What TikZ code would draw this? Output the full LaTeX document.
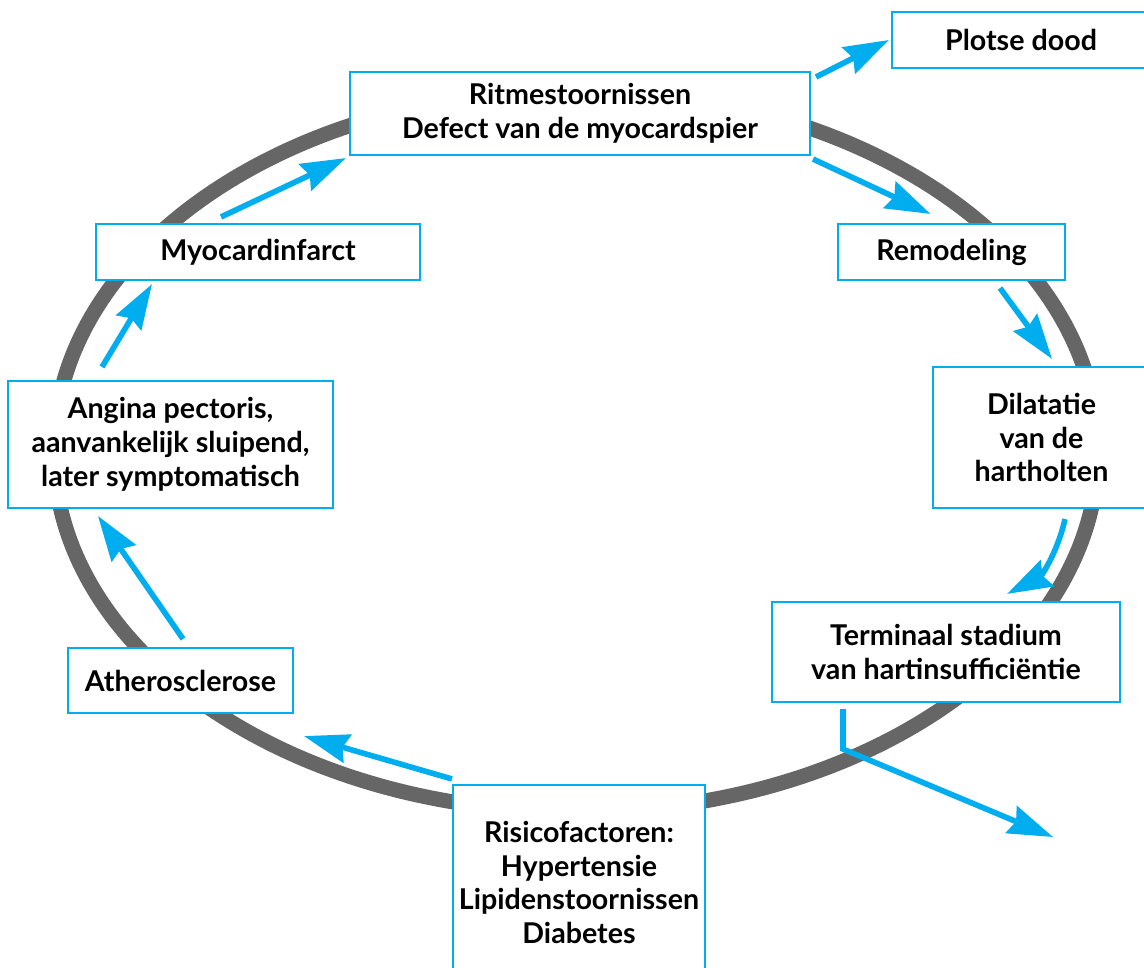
\documentclass[tikz,border=0pt]{standalone}
\usepackage{fontspec}
\setmainfont{Lato}
\usetikzlibrary{arrows.meta,positioning}
\definecolor{cycleblue}{HTML}{00AEEF}
\definecolor{ringgray}{HTML}{666666}
\tikzset{
    stage/.style={
        draw=cycleblue,
        line width=1.2pt,
        fill=white,
        align=center,
        inner sep=0pt,
        font=\bfseries\fontsize{16.3}{19.3}\selectfont
    },
    flow/.style={
        draw=cycleblue,
        line width=3.2pt,
        -{Stealth[length=0.9cm,width=0.58cm,inset=0.1cm]}
    }
}

\begin{document}
\begin{tikzpicture}[x=0.02cm,y=-0.02cm]
  \useasboundingbox (0,0) rectangle (1144,968);
  \draw[ringgray, line width=0.3cm] (576,451) ellipse [x radius=522, y radius=361];

  \node[stage, minimum width=460*0.02cm, minimum height=83*0.02cm] (rit) at (580,113.5)
    {Ritmestoornissen\\Defect van de myocardspier};
  \node[stage, minimum width=258*0.02cm, minimum height=56*0.02cm] (pd) at (1021,40) {Plotse dood};
  \node[stage, minimum width=227*0.02cm, minimum height=56*0.02cm] (rem) at (951.5,252) {Remodeling};
  \node[stage, minimum width=217*0.02cm, minimum height=141*0.02cm] (dil) at (1041.5,437.5)
    {Dilatatie\\van de\\hartholten};
  \node[stage, minimum width=348*0.02cm, minimum height=100*0.02cm] (term) at (946,652)
    {Terminaal stadium\\van hartinsufficiëntie};
  \node[stage, minimum width=252*0.02cm, minimum height=195*0.02cm] (risk) at (579,882.5)
    {Risicofactoren:\\Hypertensie\\Lipidenstoornissen\\Diabetes};
  \node[stage, minimum width=225*0.02cm, minimum height=65*0.02cm] (ath) at (180.5,680.5) {Atherosclerose};
  \node[stage, minimum width=325*0.02cm, minimum height=127*0.02cm] (ang) at (170.5,444.5)
    {Angina pectoris,\\aanvankelijk sluipend,\\later symptomatisch};
  \node[stage, minimum width=324*0.02cm, minimum height=56*0.02cm] (myo) at (258,252) {Myocardinfarct};
  \coordinate (out) at (1053,837);

  \draw[flow] ([shift={(5,6)}]rit.north east) -- ([shift={(-2,0)}]pd.west);
  \draw[flow] ([shift={(2,3)}]rit.south east) -- ([shift={(-21,-9)}]rem.north);
  \draw[flow] ([shift={(48.5,7)}]rem.south) -- ([shift={(10.5,-7)}]dil.north);
  \draw[flow] ([shift={(23.5,10)}]dil.south) to[bend left=25] ([shift={(61,-7)}]term.north);
  \draw[flow] ([shift={(-103,6)}]term.south) -- ++(0,40) -- (out);
  \draw[flow] ([shift={(0,-5)}]risk.north west) -- ([shift={(10,22)}]ath.south east);
  \draw[flow] ([shift={(2.5,-8)}]ath.north) -- ([shift={(-72.5,7)}]ang.south);
  \draw[flow] ([shift={(-68.5,-13)}]ang.north) -- ([shift={(-106,3)}]myo.south);
  \draw[flow] ([shift={(-37,-6)}]myo.north) -- ([shift={(-3,2)}]rit.south west);
\end{tikzpicture}
\end{document}
